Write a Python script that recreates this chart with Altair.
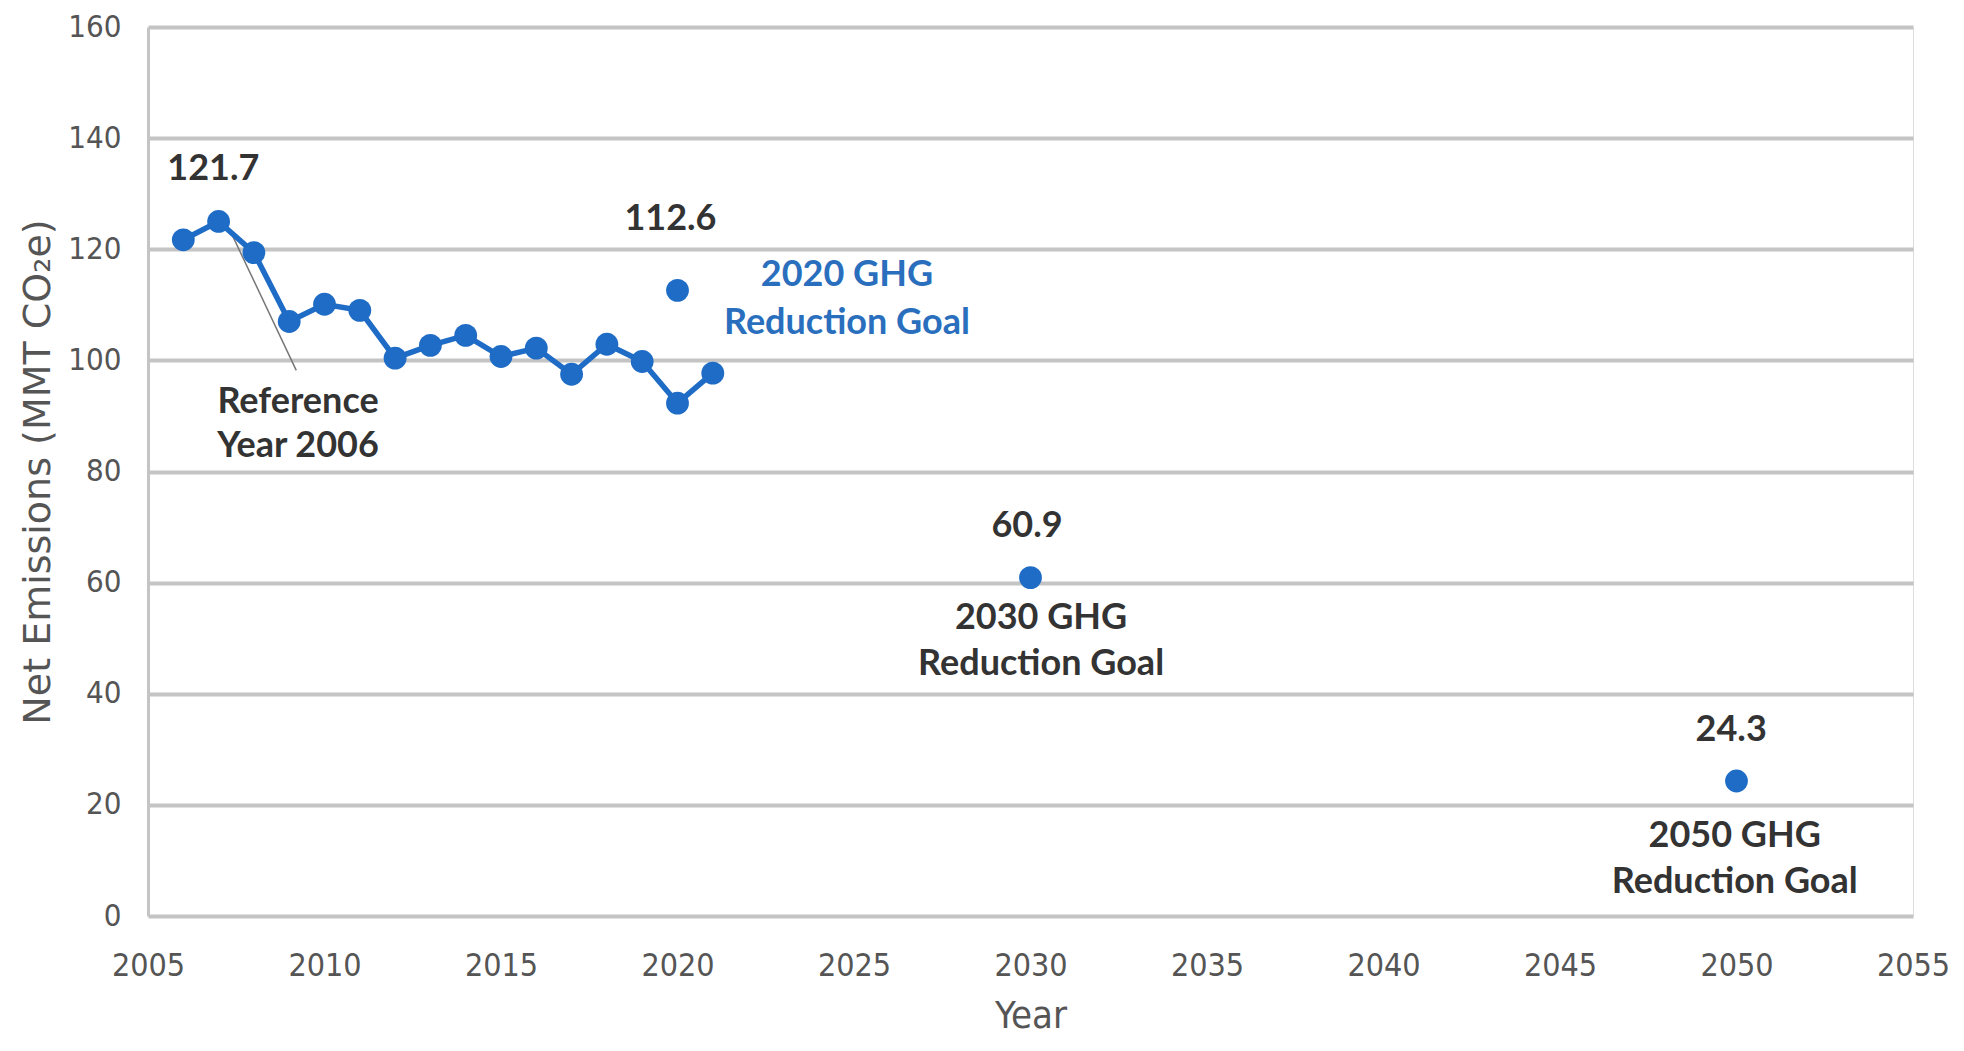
import altair as alt
import pandas as pd

# Historical net emissions (MMT CO2e)
years = list(range(2006, 2022))
emissions = [121.7, 125.0, 119.4, 107.0, 110.1, 109.0, 100.4, 102.7,
             104.5, 100.7, 102.2, 97.5, 102.9, 99.8, 92.3, 97.7]

# Reduction goals
goal_years = [2020, 2030, 2050]
goal_values = [112.6, 60.9, 24.3]

# Annotations
ann_text = ["121.7", "112.6", "2020 GHG", "Reduction Goal", "Reference", "Year 2006",
            "60.9", "2030 GHG", "Reduction Goal", "24.3", "2050 GHG", "Reduction Goal"]
ann_x = [2006.85, 2019.8, 2024.8, 2024.8, 2009.25, 2009.25,
         2029.9, 2030.3, 2030.3, 2049.85, 2049.95, 2049.95]
ann_y = [134.5, 125.5, 115.3, 106.7, 92.5, 84.6,
         70.2, 53.7, 45.4, 33.4, 14.4, 6.1]
ann_kind = ["dark", "dark", "blue", "blue", "dark", "dark",
            "dark", "dark", "dark", "dark", "dark", "dark"]

# Leader line for reference year
lead_x = [2007.3]
lead_x2 = [2009.2]
lead_y = [123.7]
lead_y2 = [98.2]

BLUE = "#1f6cc6"
DARK = "#333333"

hist = pd.DataFrame({"Year": years, "Emissions": emissions})
goals = pd.DataFrame({"Year": goal_years, "Emissions": goal_values})
ann = pd.DataFrame({"text": ann_text, "x": ann_x, "y": ann_y, "kind": ann_kind})
lead = pd.DataFrame({"x": lead_x, "x2": lead_x2, "y": lead_y, "y2": lead_y2})

xscale = alt.Scale(domain=[2005, 2055], nice=False, zero=False)
yscale = alt.Scale(domain=[0, 160], nice=False)

xenc = alt.X("Year:Q", scale=xscale,
             axis=alt.Axis(title="Year", values=list(range(2005, 2056, 5)), format="d",
                           grid=False, domain=False, ticks=False, labelPadding=34,
                           labelFontSize=32, labelColor="#555555", labelFont="DejaVu Sans Condensed",
                           titleFontSize=38, titleFontWeight="normal", titleColor="#555555",
                           titleFont="DejaVu Sans Condensed", titlePadding=16, labelFlush=False))
yenc = alt.Y("Emissions:Q", scale=yscale,
             axis=alt.Axis(title="Net Emissions (MMT CO\u2082e)", values=list(range(0, 161, 20)),
                           grid=True, gridColor="#c4c4c4", gridWidth=4, domain=True,
                           domainColor="#c4c4c4", domainWidth=3, ticks=False, labelPadding=27,
                           labelFontSize=31, labelColor="#555555", labelFont="DejaVu Sans Condensed",
                           titleFontSize=38, titleFontWeight="normal", titleColor="#555555",
                           titleFont="DejaVu Sans", titlePadding=10))

line = alt.Chart(hist).mark_line(color=BLUE, strokeWidth=5.5).encode(x=xenc, y=yenc)
pts = alt.Chart(hist).mark_circle(color=BLUE, size=520, opacity=1).encode(x="Year:Q", y="Emissions:Q")
gpts = alt.Chart(goals).mark_circle(color=BLUE, size=520, opacity=1).encode(x="Year:Q", y="Emissions:Q")

leader = alt.Chart(lead).mark_rule(color="#777777", strokeWidth=1.5).encode(
    x="x:Q", x2="x2:Q", y="y:Q", y2="y2:Q")

texts = alt.Chart(ann).mark_text(font="Lato", fontWeight="bold", fontSize=36,
                                 align="center", baseline="middle").encode(
    x="x:Q", y="y:Q", text="text:N",
    color=alt.Color("kind:N", scale=alt.Scale(domain=["dark", "blue"], range=[DARK, "#2a6fbd"]),
                    legend=None))

chart = alt.layer(leader, line, pts, gpts, texts).properties(
    width=1765, height=889,
    autosize=alt.AutoSizeParams(type="none"),
    padding={"left": 140, "top": 19, "right": 40, "bottom": 126},
).configure_view(strokeWidth=0, stroke="transparent").configure(background="white")

chart.save("out.html", embed_options={"renderer": "svg", "actions": False})
